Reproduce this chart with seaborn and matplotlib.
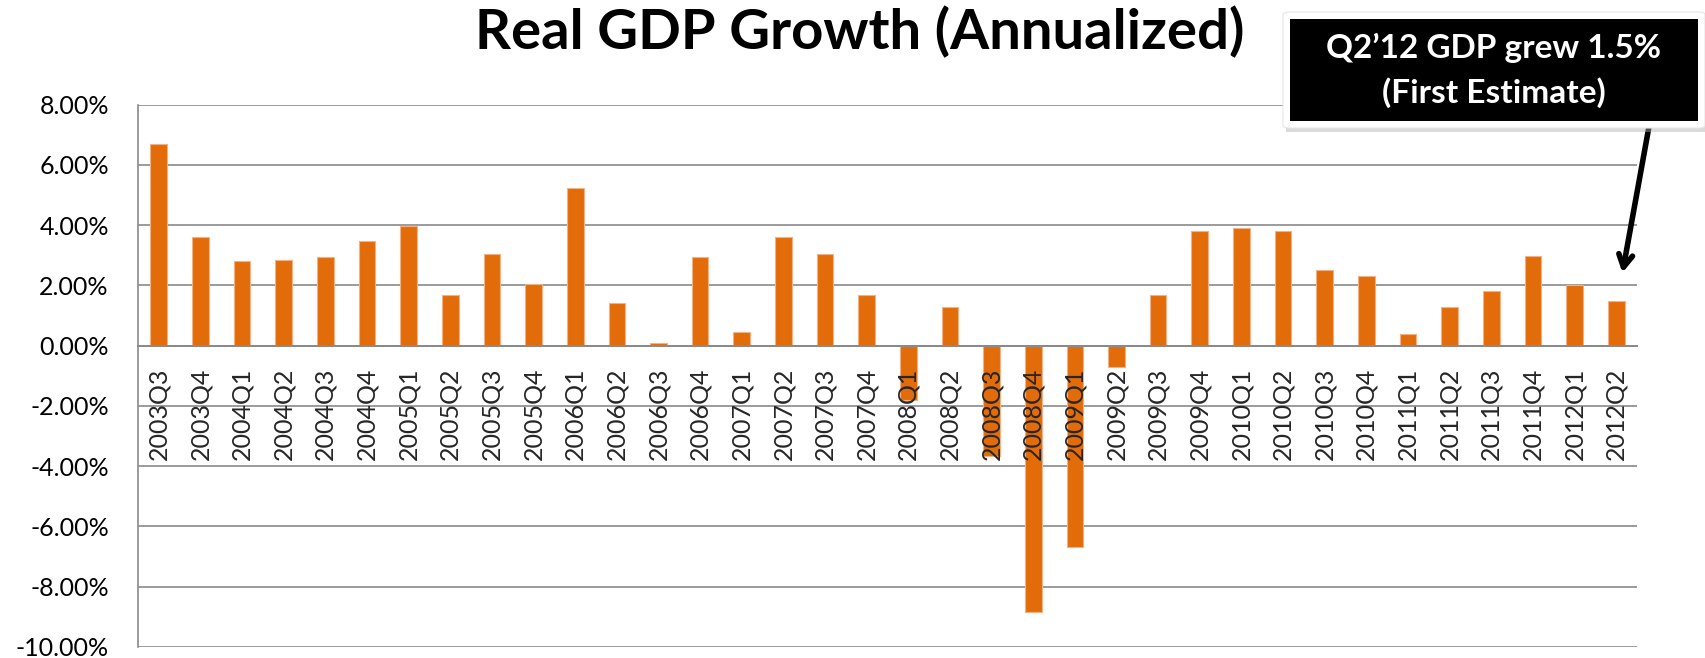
import numpy as np
import pandas as pd
import matplotlib
matplotlib.use("Agg")
from matplotlib import pyplot as plt
from matplotlib.patches import Rectangle, FancyBboxPatch
from matplotlib.ticker import FixedLocator, FuncFormatter
import seaborn as sns

quarters = ["2003Q3", "2003Q4",
            "2004Q1", "2004Q2", "2004Q3", "2004Q4",
            "2005Q1", "2005Q2", "2005Q3", "2005Q4",
            "2006Q1", "2006Q2", "2006Q3", "2006Q4",
            "2007Q1", "2007Q2", "2007Q3", "2007Q4",
            "2008Q1", "2008Q2", "2008Q3", "2008Q4",
            "2009Q1", "2009Q2", "2009Q3", "2009Q4",
            "2010Q1", "2010Q2", "2010Q3", "2010Q4",
            "2011Q1", "2011Q2", "2011Q3", "2011Q4",
            "2012Q1", "2012Q2"]
growth = [6.7, 3.6,
          2.8, 2.85, 2.93, 3.47,
          3.98, 1.7, 3.04, 2.05,
          5.25, 1.42, 0.08, 2.93,
          0.47, 3.6, 3.03, 1.7,
          -1.8, 1.28, -3.66, -8.85,
          -6.68, -0.71, 1.7, 3.8,
          3.9, 3.8, 2.5, 2.3,
          0.4, 1.28, 1.8, 2.99,
          2.0, 1.5]
y_ticks = [-10, -8, -6, -4, -2, 0, 2, 4, 6, 8]

title = "Real GDP Growth (Annualized)"
note_lines = ["Q2\u201912 GDP grew 1.5%", "(First Estimate)"]

df = pd.DataFrame({"quarter": quarters, "growth": growth})

sns.set_style("white")
plt.rcParams["font.family"] = ["Lato", "DejaVu Sans"]

W, H = 1706, 658
fig = plt.figure(figsize=(W / 100, H / 100), dpi=100)
ax = fig.add_axes([138 / W, 1 - 647 / H, (1637 - 138) / W, (647 - 104.7) / H])

orange = "#e36c0a"
grey = "#8a8a8a"

sns.barplot(data=df, x="quarter", y="growth", color=orange, saturation=1,
            width=0.4, edgecolor="#f4b183", linewidth=0.8, ax=ax, zorder=3)

ax.set_xlim(-0.5, len(quarters) - 0.5)
ax.set_ylim(-10, 8)
ax.set_yticks(y_ticks)
ax.yaxis.set_major_formatter(FuncFormatter(lambda v, p: f"{v:.2f}%"))
ax.yaxis.grid(True, color=grey, linewidth=1.2)
ax.set_axisbelow(True)
ax.xaxis.set_zorder(5)
ax.set_xlabel("")
ax.set_ylabel("")

for s in ["top", "right"]:
    ax.spines[s].set_visible(False)
ax.spines["left"].set_color(grey)
ax.spines["left"].set_linewidth(1.2)
ax.spines["bottom"].set_position(("data", 0))
ax.spines["bottom"].set_color(grey)
ax.spines["bottom"].set_linewidth(1.4)
ax.spines["bottom"].set_zorder(4)

ax.tick_params(axis="y", length=7, width=1.2, color=grey, pad=14,
               labelsize=18, labelcolor="black")
ax.tick_params(axis="x", which="major", length=0, pad=16, labelsize=18,
               labelrotation=90)
ax.xaxis.set_minor_locator(FixedLocator(np.arange(0.5, len(quarters), 1)))
ax.tick_params(axis="x", which="minor", length=6.5, width=1.2, color=grey)

fig.text(860 / W, 1 - 49 / H, title, ha="center", va="baseline",
         fontsize=40.5, fontweight="bold", color="black")

# callout box
fig.patches.append(Rectangle((1286 / W, 1 - 132 / H), 423 / W, 116 / H,
                             transform=fig.transFigure, facecolor="#b0b0b0",
                             alpha=0.45, edgecolor="none", zorder=1))
fig.patches.append(FancyBboxPatch((1283 / W, 1 - 128 / H), 422 / W, 116 / H,
                                  boxstyle="round,pad=0,rounding_size=0.004",
                                  transform=fig.transFigure, facecolor="white",
                                  edgecolor="#e6e6e6", linewidth=0.8, zorder=2))
fig.patches.append(Rectangle((1290 / W, 1 - 121 / H), 408 / W, 102 / H,
                             transform=fig.transFigure, facecolor="black",
                             edgecolor="none", zorder=3))
fig.text(1494 / W, 1 - 58 / H, note_lines[0], ha="center", va="baseline",
         color="white", fontsize=24, fontweight="bold", zorder=4)
fig.text(1494 / W, 1 - 103 / H, note_lines[1], ha="center", va="baseline",
         color="white", fontsize=24, fontweight="bold", zorder=4)

ax.annotate("", xy=(35.15, 2.42), xycoords="data",
            xytext=(1650 / W, 1 - 121 / H), textcoords="figure fraction",
            arrowprops=dict(arrowstyle="->,head_length=0.9,head_width=0.5",
                            color="black", lw=4, shrinkA=0, shrinkB=0),
            annotation_clip=False, zorder=6)

plt.savefig("out.png", dpi=100)
plt.close()
